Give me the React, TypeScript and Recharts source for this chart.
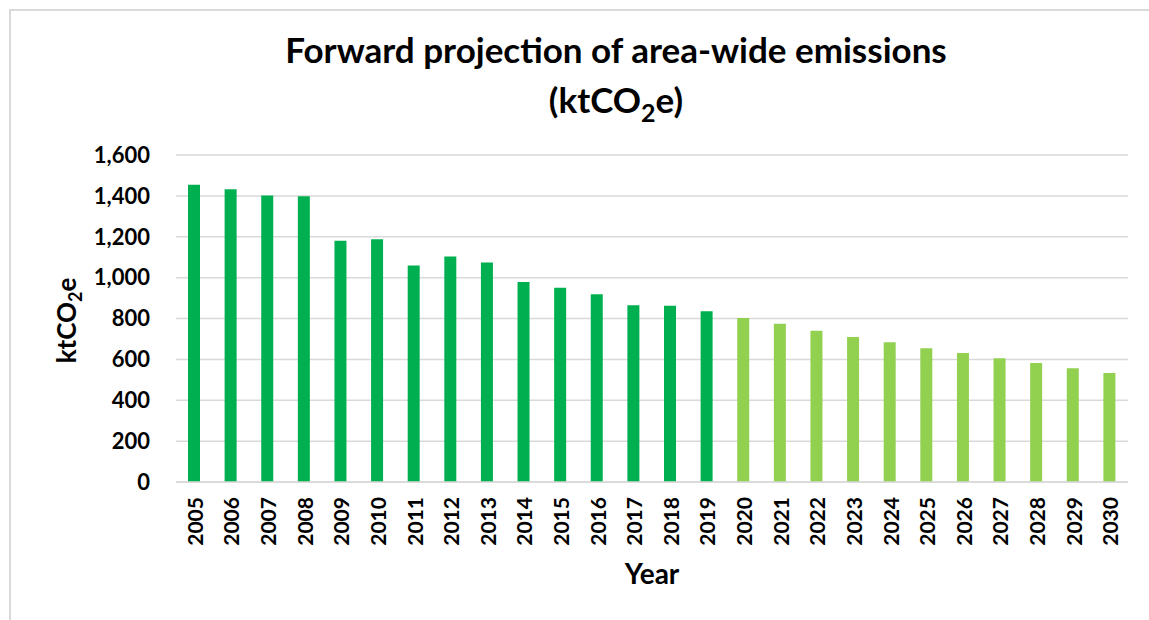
import React from 'react';
import { BarChart, Bar, XAxis, YAxis, CartesianGrid, Cell, Label } from 'recharts';

const years = [
  '2005', '2006', '2007', '2008', '2009', '2010', '2011', '2012', '2013',
  '2014', '2015', '2016', '2017', '2018', '2019', '2020', '2021', '2022',
  '2023', '2024', '2025', '2026', '2027', '2028', '2029', '2030',
];
const emissions = [
  1455, 1432, 1402, 1398, 1180, 1188, 1059, 1103, 1074,
  978, 950, 919, 865, 862, 836, 802, 774, 740,
  709, 684, 655, 631, 606, 582, 557, 533,
];
const yTicks = [0, 200, 400, 600, 800, 1000, 1200, 1400, 1600];
const firstProjectedYear = '2020';

const data = years.map((year, i) => ({ year, value: emissions[i] }));

const FONT = 'Lato, "Open Sans", sans-serif';
const ACTUAL = '#00b050';
const PROJECTED = '#92d050';

function YearTick(props: any) {
  const { x, y, payload } = props;
  return (
    <text
      x={x}
      y={y}
      transform={`rotate(-90, ${x}, ${y})`}
      textAnchor="end"
      dominantBaseline="central"
      fontFamily={FONT}
      fontWeight={700}
      fontSize={21}
      fill="#000"
    >
      {payload.value}
    </text>
  );
}

function YearLabel(props: any) {
  const vb = props.viewBox;
  return (
    <text
      x={vb.x + vb.width / 2}
      y={vb.y + 102}
      textAnchor="middle"
      fontFamily={FONT}
      fontWeight={700}
      fontSize={28}
      fill="#000"
    >
      Year
    </text>
  );
}

function UnitLabel(props: any) {
  const vb = props.viewBox;
  const cx = 76;
  const cy = vb.y + vb.height / 2 + 2;
  return (
    <text
      x={cx}
      y={cy}
      transform={`rotate(-90, ${cx}, ${cy})`}
      textAnchor="middle"
      fontFamily={FONT}
      fontWeight={700}
      fontSize={26}
      fill="#000"
    >
      ktCO<tspan fontSize={18} dy={6}>2</tspan><tspan dy={-6}>e</tspan>
    </text>
  );
}

export default function App() {
  return (
    <div style={{ position: 'fixed', left: 0, top: 0, width: 1149, height: 620, background: '#fff', overflow: 'hidden' }}>
      <div
        style={{
          position: 'absolute', left: 9, top: 9, width: 1200, height: 700,
          borderLeft: '2px solid #d9d9d9', borderTop: '2px solid #d9d9d9',
        }}
      />
      <div
        style={{
          position: 'absolute', left: 616, top: 24, transform: 'translateX(-50%)',
          whiteSpace: 'nowrap', textAlign: 'center', fontFamily: FONT, fontWeight: 700,
          fontSize: 35, lineHeight: '50px', color: '#000',
        }}
      >
        <div>Forward projection of area-wide emissions</div>
        <div>
          (ktCO<sub style={{ fontSize: 25, verticalAlign: '-9px', lineHeight: 0 }}>2</sub>e)
        </div>
      </div>
      <div style={{ position: 'absolute', left: 0, top: 0 }}>
        <BarChart
          width={1149}
          height={620}
          data={data}
          margin={{ top: 155, right: 21, left: 0, bottom: 18 }}
        >
          <CartesianGrid vertical={false} stroke="#d9d9d9" strokeWidth={1.5} />
          <XAxis
            dataKey="year"
            interval={0}
            height={120}
            tickLine={false}
            tickSize={0}
            tickMargin={15}
            axisLine={{ stroke: '#d9d9d9', strokeWidth: 1.5 }}
            tick={<YearTick />}
          >
            <Label content={<YearLabel />} />
          </XAxis>
          <YAxis
            width={176}
            domain={[0, 1600]}
            ticks={yTicks}
            interval={0}
            tickLine={false}
            axisLine={false}
            tickSize={0}
            tickMargin={26}
            tickFormatter={(v: number) => v.toLocaleString('en-US')}
            tick={{ fill: '#000', fontSize: 22, fontWeight: 700, fontFamily: FONT }}
          >
            <Label content={<UnitLabel />} />
          </YAxis>
          <Bar dataKey="value" barSize={12} isAnimationActive={false}>
            {data.map((d) => (
              <Cell key={d.year} fill={d.year >= firstProjectedYear ? PROJECTED : ACTUAL} />
            ))}
          </Bar>
        </BarChart>
      </div>
    </div>
  );
}
